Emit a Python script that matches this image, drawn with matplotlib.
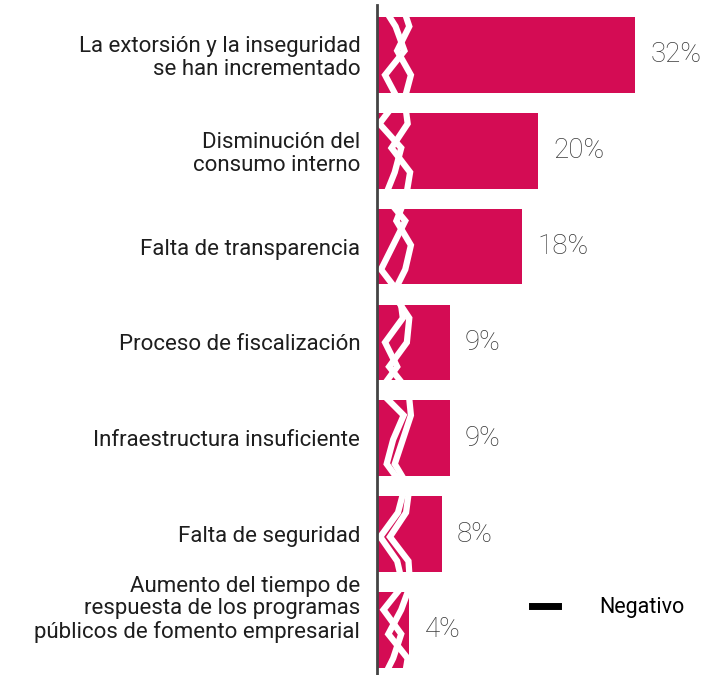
import matplotlib
matplotlib.use("Agg")
import matplotlib.pyplot as plt
import matplotlib.transforms as mtransforms
from matplotlib.lines import Line2D
import numpy as np

categories = [
    "La extorsión y la inseguridad\nse han incrementado",
    "Disminución del\nconsumo interno",
    "Falta de transparencia",
    "Proceso de fiscalización",
    "Infraestructura insuficiente",
    "Falta de seguridad",
    "Aumento del tiempo de\nrespuesta de los programas\npúblicos de fomento empresarial",
]
values = [32, 20, 18, 9, 9, 8, 4]
labels = ["32%", "20%", "18%", "9%", "9%", "8%", "4%"]

BAR = "#D40C54"

plt.rcParams["font.family"] = ["Roboto", "DejaVu Sans"]

fig = plt.figure(figsize=(7.08, 6.75), dpi=100)
ax = fig.add_axes([377 / 708, 0.0, 331 / 708, 670 / 675])

y = np.arange(len(values))
ax.barh(y, values, height=0.79, color=BAR, zorder=2)

# decorative white lattice over the bar roots
zig_y = np.linspace(-0.55, 6.55, 29)
zig_a = [0.4, 2.3, 3.4, 1.0, 2.6, 0.3, 3.0, 2.2, 1.0, 3.5, 2.0, 0.5, 2.8, 3.2,
         1.0, 2.5, 0.3, 3.3, 2.0, 1.2, 3.4, 2.6, 0.4, 2.5, 3.2, 0.8, 3.0, 2.0, 0.5]
zig_b = [3.0, 4.0, 2.5, 4.2, 3.4, 3.8, 1.8, 4.1, 3.6, 2.4, 4.2, 3.5, 2.0, 4.0,
         3.7, 1.5, 3.9, 4.2, 3.2, 2.2, 4.0, 3.6, 1.6, 3.9, 4.1, 3.0, 1.4, 3.8, 3.3]
ax.plot(zig_a, zig_y, color="white", lw=4.5, zorder=3, solid_joinstyle="miter")
ax.plot(zig_b, zig_y, color="white", lw=4.5, zorder=3, solid_joinstyle="miter")

for yi, v, t in zip(y, values, labels):
    ax.text(v + 1.9, yi, t, va="center", ha="left", fontsize=20,
            color="#3a3a3a", fontweight="light")

ax.set_xlim(0, 41)
ax.set_ylim(6.47, -0.52)
ax.set_yticks(y)
ax.set_yticklabels(categories, fontsize=16, color="#1e1e1e", ha="right",
                   multialignment="right", linespacing=1.1)
ax.tick_params(axis="y", length=0, pad=12)
# the three-line label sits a bit higher than its bar centre
last = ax.get_yticklabels()[-1]
last.set_transform(last.get_transform() +
                   mtransforms.ScaledTranslation(0, 0.24, fig.dpi_scale_trans))
ax.set_xticks([])
for s in ("top", "right", "bottom"):
    ax.spines[s].set_visible(False)
ax.spines["left"].set_color("#444444")
ax.spines["left"].set_linewidth(2)
ax.spines["left"].set_zorder(5)

handle = Line2D([0], [0], color="black", lw=5)
ax.legend([handle], ["Negativo"], loc="center left", bbox_to_anchor=(0.41, 0.10),
          frameon=False, fontsize=15.5, handlelength=1.2, handletextpad=1.9)

fig.savefig("out.png", dpi=100)
